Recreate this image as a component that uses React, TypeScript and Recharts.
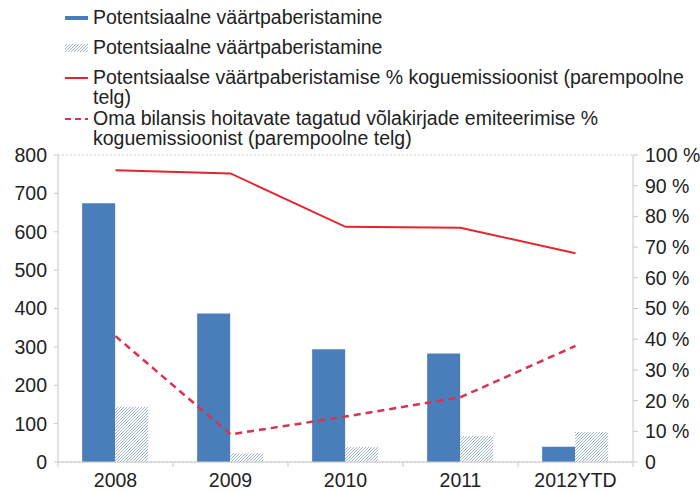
import React from "react";
import {
  ComposedChart, Bar, Line, XAxis, YAxis, CartesianGrid,
} from "recharts";

const years = ["2008", "2009", "2010", "2011", "2012YTD"];
const potential = [674, 387, 294, 283, 40];
const potentialHatched = [144, 22, 39, 68, 78];
const potentialPct = [95, 94, 76.6, 76.3, 68];
const ownBalancePct = [41, 9, 14.8, 21.1, 37.8];

const leftTicks = [0, 100, 200, 300, 400, 500, 600, 700, 800];
const rightTicks = [0, 10, 20, 30, 40, 50, 60, 70, 80, 90, 100];

const legendLabels = [
  "Potentsiaalne väärtpaberistamine",
  "Potentsiaalne väärtpaberistamine",
  "Potentsiaalse väärtpaberistamise % koguemissioonist (parempoolne\ntelg)",
  "Oma bilansis hoitavate tagatud võlakirjade emiteerimise %\nkoguemissioonist (parempoolne telg)",
];

const BLUE = "#4a7ebb";
const RED = "#e2262c";
const RED_DASH = "#d8334e";
const AXIS = "#c8c8c8";
const HATCH = "#93acc9";
const FONT = "'Liberation Sans', Arial, Helvetica, sans-serif";
const FS = 19.5;

const data = years.map((y, i) => ({
  year: y,
  potential: potential[i],
  hatched: potentialHatched[i],
  pct: potentialPct[i],
  own: ownBalancePct[i],
}));

// x axis tick: label at the category centre, tick marks at the band edges
const XTick = (props: any) => {
  const { x, y, payload, index } = props;
  const half = 57.5;
  return (
    <g>
      <line x1={x - half} x2={x - half} y1={y - 8} y2={y - 3} stroke={AXIS} />
      {index === years.length - 1 && (
        <line x1={x + half} x2={x + half} y1={y - 8} y2={y - 3} stroke={AXIS} />
      )}
      <text x={x} y={y + 17} textAnchor="middle" fill="#222" fontSize={FS} fontFamily={FONT}>
        {payload.value}
      </text>
    </g>
  );
};

function LegendIcon({ kind }: { kind: number }) {
  return (
    <svg width={24} height={10} style={{ position: "absolute", left: 0, top: 6 }}>
      {kind === 0 && <rect x={0} y={3} width={23} height={4} fill={BLUE} />}
      {kind === 1 && <rect x={0} y={1} width={23} height={8} fill="url(#legendHatch)" />}
      {kind === 2 && <line x1={0} x2={23} y1={5} y2={5} stroke={RED} strokeWidth={2} />}
      {kind === 3 && (
        <line x1={0} x2={23} y1={5} y2={5} stroke={RED_DASH} strokeWidth={2} strokeDasharray="6 4" />
      )}
    </svg>
  );
}

export default function App() {
  const tops = [7, 37, 67, 108];
  return (
    <div style={{ position: "relative", width: 700, height: 492, background: "#fff", fontFamily: FONT, overflow: "hidden" }}>
      <style>{`body{margin:0}`}</style>
      <svg width={0} height={0} style={{ position: "absolute" }}>
        <defs>
          <pattern id="legendHatch" patternUnits="userSpaceOnUse" width={3} height={3}>
            <rect width={3} height={3} fill="#fff" />
            <path d="M-1,1 l2,-2 M0,3 l3,-3 M2,4 l2,-2" stroke={HATCH} strokeWidth={0.9} />
          </pattern>
        </defs>
      </svg>

      {legendLabels.map((label, i) => (
        <div
          key={i}
          style={{
            position: "absolute", left: 65, top: tops[i], width: 660,
            paddingLeft: 28, fontSize: FS, lineHeight: "20px", color: "#222",
            whiteSpace: "pre",
          }}
        >
          <LegendIcon kind={i} />
          {label}
        </div>
      ))}

      <ComposedChart
        width={700}
        height={492}
        data={data}
        margin={{ top: 155, right: 0, bottom: 0, left: 0 }}
        barCategoryGap="21%"
        barGap={0}
        style={{ position: "absolute", left: 0, top: 0 }}
      >
        <defs>
          <pattern id="hatch" patternUnits="userSpaceOnUse" width={3} height={3}>
            <rect width={3} height={3} fill="#fff" />
            <path d="M-1,1 l2,-2 M0,3 l3,-3 M2,4 l2,-2" stroke={HATCH} strokeWidth={0.9} />
          </pattern>
        </defs>
        <CartesianGrid vertical={false} stroke="#cfcfcf" strokeDasharray="2 2" />
        <XAxis
          dataKey="year"
          height={30}
          stroke={AXIS}
          tickLine={false}
          tick={<XTick />}
          interval={0}
        />
        <YAxis
          yAxisId="left"
          domain={[0, 800]}
          ticks={leftTicks}
          width={58}
          stroke={AXIS}
          tickSize={4}
          tickMargin={7}
          tick={{ fill: "#222", fontSize: FS, fontFamily: FONT }}
          interval={0}
        />
        <YAxis
          yAxisId="right"
          orientation="right"
          domain={[0, 100]}
          ticks={rightTicks}
          width={67}
          stroke={AXIS}
          tickSize={5}
          tickMargin={7}
          tickFormatter={(v: number) => (v === 0 ? "0" : `${v} %`)}
          tick={{ fill: "#222", fontSize: FS, fontFamily: FONT, textAnchor: "start" }}
          interval={0}
        />
        <Bar yAxisId="left" dataKey="potential" fill={BLUE} isAnimationActive={false} />
        <Bar yAxisId="left" dataKey="hatched" fill="url(#hatch)" isAnimationActive={false} />
        <Line
          yAxisId="right"
          dataKey="pct"
          type="linear"
          stroke={RED}
          strokeWidth={2}
          dot={false}
          isAnimationActive={false}
        />
        <Line
          yAxisId="right"
          dataKey="own"
          type="linear"
          stroke={RED_DASH}
          strokeWidth={2.5}
          strokeDasharray="7 5"
          dot={false}
          isAnimationActive={false}
        />
      </ComposedChart>
    </div>
  );
}
